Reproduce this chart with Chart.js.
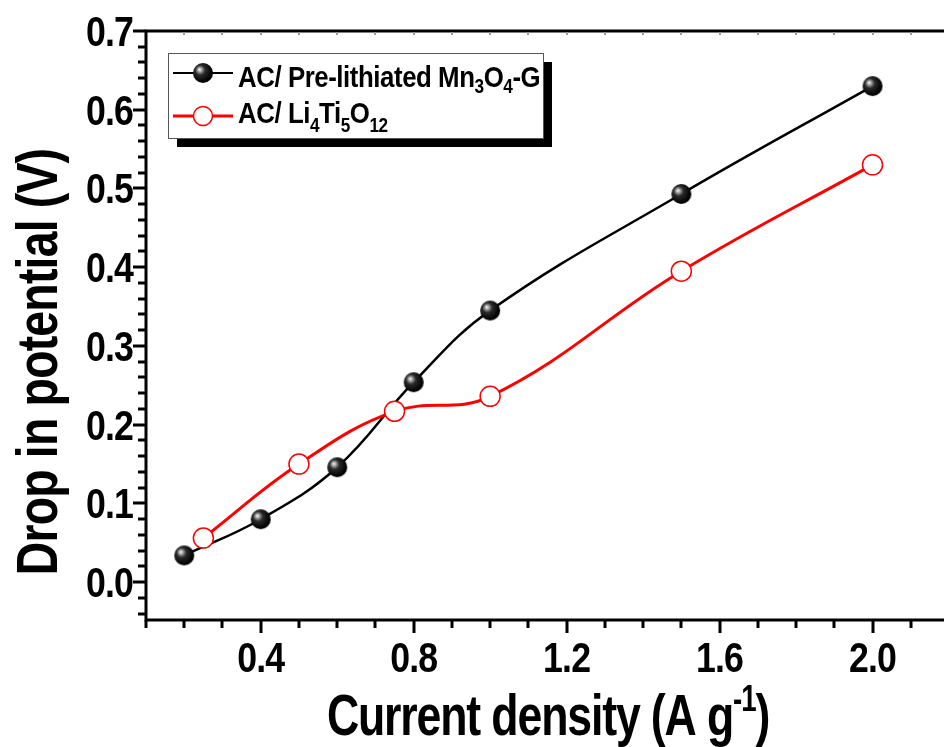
<!DOCTYPE html>
<html lang="en">
<head>
  <meta charset="UTF-8" />
  <title>Drop in potential vs current density</title>
  <script src="https://cdn.jsdelivr.net/npm/chart.js"></script>
  <style>
    html, body {
      margin: 0;
      padding: 0;
      background: #fff;
      overflow: hidden;
    }
    .chart-box {
      width: 944px;
      height: 747px;
      overflow: hidden;
    }
    #dropChart {
      display: block;
    }
  </style>
</head>
<body>

  <div class="chart-box">
    <canvas id="dropChart" width="952" height="747"></canvas>
  </div>

  <script>
    // values
    const mnCurrent = [0.2, 0.4, 0.6, 0.8, 1.0, 1.5, 2.0];
    const mnDrop = [0.034, 0.080, 0.146, 0.254, 0.345, 0.493, 0.630];
    const ltoCurrent = [0.25, 0.5, 0.75, 1.0, 1.5, 2.0];
    const ltoDrop = [0.056, 0.150, 0.217, 0.236, 0.395, 0.530];

    const xTickLabels = [0.4, 0.8, 1.2, 1.6, 2.0];
    const yTickLabels = [0.0, 0.1, 0.2, 0.3, 0.4, 0.5, 0.6, 0.7];

    // legend text, [text, isSubscript]
    const mnLabel = [['AC/ Pre-lithiated Mn', 0], ['3', 1], ['O', 0], ['4', 1], ['-G', 0]];
    const ltoLabel = [['AC/ Li', 0], ['4', 1], ['Ti', 0], ['5', 1], ['O', 0], ['12', 1]];

    const FAMILY = "'Liberation Sans', Arial, sans-serif";
    // the original lettering is squeezed horizontally
    let SQ = 0.8;

    // shaded ball marker
    function makeBall(r) {
      const c = document.createElement('canvas');
      c.width = c.height = Math.ceil(r * 2 + 2);
      const g = c.getContext('2d');
      const m = c.width / 2;
      const grad = g.createRadialGradient(m - r * 0.35, m - r * 0.35, 0, m - r * 0.2, m - r * 0.2, r * 1.1);
      grad.addColorStop(0, '#ffffff');
      grad.addColorStop(0.12, '#c4c4c4');
      grad.addColorStop(0.45, '#2a2a2a');
      grad.addColorStop(1, '#000000');
      g.fillStyle = grad;
      g.beginPath();
      g.arc(m, m, r, 0, Math.PI * 2);
      g.fill();
      return c;
    }
    const ball = makeBall(10);

    // squeezed bold text: draws and returns the drawn width
    function narrow(ctx, str, x, y, size, align) {
      ctx.font = `bold ${size}px ${FAMILY}`;
      const w = ctx.measureText(str).width * SQ;
      ctx.save();
      ctx.translate(x, y);
      ctx.scale(SQ, 1);
      ctx.textAlign = align || 'left';
      ctx.fillText(str, 0, 0);
      ctx.restore();
      return w;
    }

    function richWidth(ctx, parts, size, subSize) {
      let w = 0;
      parts.forEach(([txt, sub]) => {
        ctx.font = `bold ${sub ? subSize : size}px ${FAMILY}`;
        w += ctx.measureText(txt).width * SQ;
      });
      return w;
    }

    function drawRich(ctx, parts, x, y, size, subSize, subDy) {
      let cx = x;
      parts.forEach(([txt, sub]) => {
        if (sub === 2) cx += narrow(ctx, txt, cx, y - subDy, subSize);
        else if (sub) cx += narrow(ctx, txt, cx, y + subDy, subSize);
        else cx += narrow(ctx, txt, cx, y, size);
      });
      return cx - x;
    }

    const framePlugin = {
      id: 'frame',
      afterDraw(chart) {
        const { ctx, chartArea: a } = chart;
        const xs = chart.scales.x, ys = chart.scales.y;
        ctx.save();
        ctx.strokeStyle = '#000';
        ctx.lineWidth = 3;
        ctx.strokeRect(a.left, a.top, a.right - a.left, a.bottom - a.top);

        ctx.beginPath();
        // left ticks
        for (let v = -0.04; v <= 0.7001; v += 0.02) {
          const y = Math.round(ys.getPixelForValue(v));
          const major = yTickLabels.some(t => Math.abs(t - v) < 1e-6);
          ctx.moveTo(a.left - (major ? 13 : 8), y);
          ctx.lineTo(a.left, y);
        }
        // bottom ticks
        for (let v = 0.1; v <= 2.2001; v += 0.1) {
          const x = Math.round(xs.getPixelForValue(v));
          const major = xTickLabels.some(t => Math.abs(t - v) < 1e-6);
          ctx.moveTo(x, a.bottom);
          ctx.lineTo(x, a.bottom + (major ? 13 : 8));
        }
        ctx.stroke();

        // faint inner ticks on the top axis
        ctx.beginPath();
        ctx.strokeStyle = '#999';
        ctx.lineWidth = 2;
        for (let v = 0.2; v <= 2.2001; v += 0.1) {
          const x = Math.round(xs.getPixelForValue(v));
          ctx.moveTo(x, a.top + 1);
          ctx.lineTo(x, a.top + 4);
        }
        ctx.stroke();

        ctx.fillStyle = '#000';
        ctx.textBaseline = 'alphabetic';

        // tick labels
        SQ = 0.85;
        ctx.letterSpacing = '-1px';
        yTickLabels.forEach(v => {
          narrow(ctx, v.toFixed(1), a.left - 13, ys.getPixelForValue(v) + 15, 42, 'right');
        });
        xTickLabels.forEach(v => {
          narrow(ctx, v.toFixed(1), xs.getPixelForValue(v), 672, 42, 'center');
        });

        // axis titles
        SQ = 0.8;
        ctx.letterSpacing = '-1px';
        ctx.save();
        ctx.translate(57, 362);
        ctx.rotate(-Math.PI / 2);
        narrow(ctx, 'Drop in potential (V)', 0, 0, 58, 'center');
        ctx.restore();

        SQ = 0.77;
        ctx.letterSpacing = '-1.5px';
        const xParts = [['Current density (A g', 0], ['-1', 2], [')', 0]];
        const xw = richWidth(ctx, xParts, 58, 36);
        drawRich(ctx, xParts, 548 - xw / 2, 735, 58, 36, 24);

        // legend
        const lx = a.left + 22, ly = a.top + 22, lw = 375, lh = 85;
        ctx.fillStyle = '#000';
        ctx.fillRect(lx + 9, ly + 9, lw, lh);
        ctx.fillStyle = '#fff';
        ctx.fillRect(lx, ly, lw, lh);
        ctx.strokeStyle = '#555';
        ctx.lineWidth = 1;
        ctx.strokeRect(lx + 0.5, ly + 0.5, lw, lh);

        const rows = [
          { parts: mnLabel, color: '#000', y: ly + 20, base: ly + 34, subDy: 6 },
          { parts: ltoLabel, color: '#ff0000', y: ly + 63, base: ly + 70, subDy: 9 }
        ];
        SQ = 0.86;
        ctx.letterSpacing = '-0.5px';
        rows.forEach((r, i) => {
          ctx.strokeStyle = r.color;
          ctx.lineWidth = i === 0 ? 2 : 3;
          ctx.beginPath();
          ctx.moveTo(lx + 5, r.y);
          ctx.lineTo(lx + 65, r.y);
          ctx.stroke();
          if (i === 0) {
            ctx.drawImage(ball, lx + 35 - ball.width / 2, r.y - ball.height / 2);
          } else {
            ctx.beginPath();
            ctx.arc(lx + 35, r.y, 9.5, 0, Math.PI * 2);
            ctx.fillStyle = '#fff';
            ctx.fill();
            ctx.lineWidth = 1.5;
            ctx.stroke();
          }
          ctx.fillStyle = '#000';
          drawRich(ctx, r.parts, lx + 70, r.base, 30, 20, r.subDy);
        });
        ctx.restore();
      }
    };

    const ctx = document.getElementById('dropChart').getContext('2d');
    const dropChart = new Chart(ctx, {
      type: 'line',
      data: {
        datasets: [
          {
            label: 'AC/ Pre-lithiated Mn3O4-G',
            data: mnCurrent.map((x, i) => ({ x, y: mnDrop[i] })),
            borderColor: '#000',
            borderWidth: 2.5,
            tension: 0.4,
            pointStyle: ball,
            pointRadius: 10,
            order: 1
          },
          {
            label: 'AC/ Li4Ti5O12',
            data: ltoCurrent.map((x, i) => ({ x, y: ltoDrop[i] })),
            borderColor: '#ff0000',
            borderWidth: 3,
            tension: 0.4,
            pointStyle: 'circle',
            pointRadius: 10,
            pointBorderWidth: 1.5,
            pointBorderColor: '#ff0000',
            pointBackgroundColor: '#fff',
            order: 0
          }
        ]
      },
      options: {
        responsive: false,
        animation: false,
        layout: { autoPadding: false, padding: { top: 31, right: 3, left: 0, bottom: 0 } },
        plugins: {
          legend: { display: false },
          tooltip: { enabled: false }
        },
        scales: {
          x: {
            type: 'linear',
            min: 0.1,
            max: 2.2,
            grid: { display: false },
            border: { display: false },
            ticks: { display: false },
            afterFit: s => { s.height = 127; }
          },
          y: {
            min: -0.048,
            max: 0.7,
            grid: { display: false },
            border: { display: false },
            ticks: { display: false },
            afterFit: s => { s.width = 146; }
          }
        }
      },
      plugins: [framePlugin]
    });
  </script>

</body>
</html>
